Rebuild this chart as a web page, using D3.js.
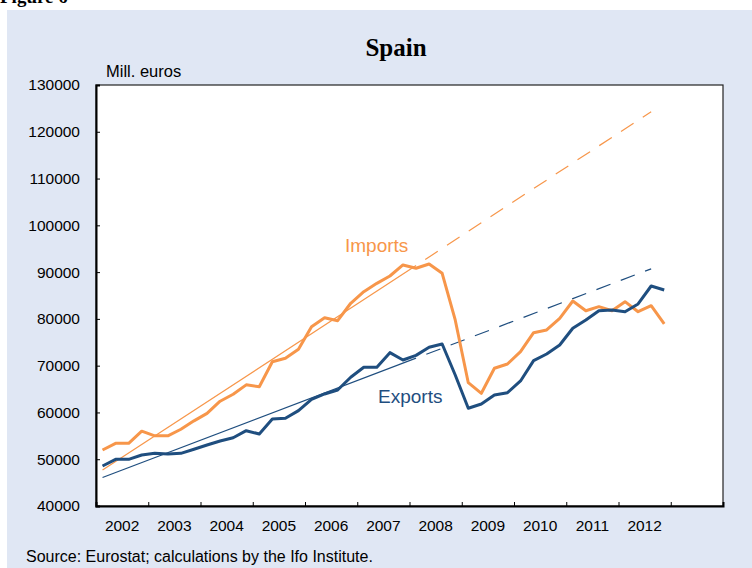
<!DOCTYPE html>
<html>
<head>
<meta charset="utf-8">
<script src="https://cdn.jsdelivr.net/npm/d3@7"></script>
<style>
  body { margin: 0; background: #fff; }
  text { font-family: "Liberation Sans", Arial, sans-serif; }
</style>
</head>
<body>
<div id="chart"></div>
<script>
// Quarterly values, mill. euros, 2002Q1 .. 2012Q4
const years = ["2002", "2003", "2004", "2005", "2006", "2007", "2008", "2009", "2010", "2011", "2012"];
const quarters = years.flatMap(y => ["Q1", "Q2", "Q3", "Q4"].map(q => y + q));

const imports = [
  51970, 53400, 53400, 56000, 55000, 55000, 56400, 58200,
  59800, 62400, 63900, 65900, 65500, 70850, 71570, 73500,
  78330, 80260, 79620, 83340, 85820, 87600, 89170, 91530,
  90820, 91740, 89750, 79770, 66360, 64090, 69440, 70360,
  72990, 77050, 77630, 80130, 83830, 81750, 82610, 81750,
  83680, 81540, 82820, 78910
];
const exports = [
  48550, 49980, 49980, 50900, 51260, 51120, 51260, 52120,
  53040, 53900, 54600, 56100, 55390, 58600, 58750, 60380,
  62810, 63950, 64800, 67520, 69650, 69650, 72780, 71220,
  72200, 73930, 74640, 68010, 60890, 61810, 63730, 64220,
  66730, 71070, 72500, 74420, 77990, 79770, 81750, 81900,
  81540, 83190, 87030, 86180
];

// Linear trends: fitted part (solid) and extrapolation (dashed)
const trendQuarters = ["2002Q1", "2008Q1", "2012Q3"];
const importsTrend = [47700, 91400, 124300];
const exportsTrend = [46100, 71600, 90700];

const yTicks = [40000, 50000, 60000, 70000, 80000, 90000, 100000, 110000, 120000, 130000];

const orange = "#f7964a",
  blue = "#1f4e7f",
  panel = "#e0e7f4";

const W = 752, H = 568;
const margin = { top: 85, left: 96, right: 29, bottom: 62 };
const width = W - margin.left - margin.right,
  height = H - margin.top - margin.bottom;

const svg = d3.select("#chart").append("svg")
  .attr("width", W)
  .attr("height", H);

// figure caption, cut off by the top edge as in the source page
svg.append("text")
  .attr("x", 0)
  .attr("y", 3)
  .style("font-family", "'Liberation Serif', 'Times New Roman', serif")
  .style("font-weight", "bold")
  .style("font-size", "19px")
  .text("Figure 6");

svg.append("rect")
  .attr("x", 7)
  .attr("y", 10)
  .attr("width", W - 7)
  .attr("height", H - 10)
  .attr("fill", panel);

svg.append("text")
  .attr("x", 396)
  .attr("y", 56)
  .attr("text-anchor", "middle")
  .style("font-family", "'Liberation Serif', 'Times New Roman', serif")
  .style("font-weight", "bold")
  .style("font-size", "25px")
  .text("Spain");

svg.append("text")
  .attr("x", 106)
  .attr("y", 77)
  .style("font-size", "16.5px")
  .text("Mill. euros");

svg.append("text")
  .attr("x", 26)
  .attr("y", 562)
  .style("font-size", "16px")
  .text("Source: Eurostat; calculations by the Ifo Institute.");

const g = svg.append("g")
  .attr("transform", "translate(" + margin.left + "," + margin.top + ")");

g.append("rect")
  .attr("width", width)
  .attr("height", height)
  .attr("fill", "#fff")
  .attr("stroke", "#222")
  .attr("stroke-width", 1.2);

const x = d3.scaleLinear()
  .domain([2002, 2014])
  .range([0, width]);

const y = d3.scaleLinear()
  .domain([40000, 130000])
  .range([height, 0]);

// mid-quarter position on the time axis
const qTime = q => +q.slice(0, 4) + (+q.slice(5) - 0.5) / 4;

// y axis, ticks pointing inward
const yAxis = g.append("g")
  .call(d3.axisLeft(y).tickValues(yTicks).tickSize(-4).tickPadding(16).tickFormat(d3.format("d")));
yAxis.select(".domain").attr("stroke", "#000").attr("stroke-width", 2);
yAxis.selectAll("text").style("font-size", "15.5px").attr("fill", "#000");

// x axis: ticks at year boundaries, labels centred in each year
const xAxis = g.append("g")
  .attr("transform", "translate(0," + height + ")")
  .call(d3.axisBottom(x).tickValues(d3.range(2003, 2014)).tickSize(-4).tickFormat(""));
xAxis.select(".domain").attr("stroke", "#000").attr("stroke-width", 2);

g.append("g")
  .selectAll("text")
  .data(years)
  .enter().append("text")
  .attr("x", d => x(+d + 0.5))
  .attr("y", height + 25)
  .attr("text-anchor", "middle")
  .style("font-size", "15.5px")
  .text(d => d);

const line = d3.line()
  .x(d => x(qTime(d.q)))
  .y(d => y(d.v));

function drawTrend(values, color) {
  const pts = trendQuarters.map((q, i) => ({ q: q, v: values[i] }));
  g.append("path")
    .datum(pts.slice(0, 2))
    .attr("d", line)
    .attr("fill", "none")
    .attr("stroke", color)
    .attr("stroke-width", 1.2);
  g.append("path")
    .datum(pts.slice(1))
    .attr("d", line)
    .attr("fill", "none")
    .attr("stroke", color)
    .attr("stroke-width", 1.2)
    .attr("stroke-dasharray", "15,11")
    .attr("stroke-dashoffset", 15);
}

drawTrend(importsTrend, orange);
drawTrend(exportsTrend, blue);

function drawSeries(values, color) {
  g.append("path")
    .datum(values.map((v, i) => ({ q: quarters[i], v: v })))
    .attr("d", line)
    .attr("fill", "none")
    .attr("stroke", color)
    .attr("stroke-width", 3)
    .attr("stroke-linejoin", "round");
}

drawSeries(imports, orange);
drawSeries(exports, blue);

svg.append("text")
  .attr("x", 345)
  .attr("y", 252)
  .attr("fill", orange)
  .style("font-size", "19px")
  .text("Imports");

svg.append("text")
  .attr("x", 378)
  .attr("y", 403)
  .attr("fill", blue)
  .style("font-size", "19px")
  .text("Exports");
</script>
</body>
</html>
